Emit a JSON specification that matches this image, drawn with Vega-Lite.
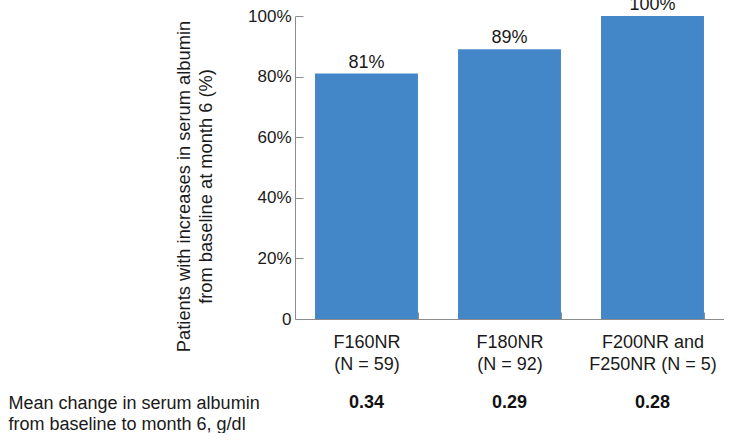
{
  "$schema": "https://vega.github.io/schema/vega-lite/v6.json",
  "padding": {"left": 8, "top": -4, "right": 0, "bottom": 0},
  "background": "white",
  "config": {
    "view": {"stroke": null},
    "font": "Liberation Sans",
    "axis": {"labelFont": "Liberation Sans", "titleFont": "Liberation Sans", "labelColor": "#1a1a1a", "titleColor": "#1a1a1a", "domainColor": "#8c8c8c", "tickColor": "#8c8c8c"}
  },
  "data": {
    "values": [
      {"group": "F160NR|(N = 59)", "pct": 81, "label": "81%", "mean": "0.34", "metric": "Mean change in serum albumin|from baseline to month 6, g/dl"},
      {"group": "F180NR|(N = 92)", "pct": 89, "label": "89%", "mean": "0.29", "metric": "Mean change in serum albumin|from baseline to month 6, g/dl"},
      {"group": "F200NR and|F250NR (N = 5)", "pct": 100, "label": "100%", "mean": "0.28", "metric": "Mean change in serum albumin|from baseline to month 6, g/dl"}
    ]
  },
  "spacing": 11,
  "vconcat": [
    {
      "width": 429,
      "height": 303,
      "encoding": {
        "x": {
          "field": "group", "type": "nominal", "sort": null,
          "scale": {"paddingInner": 0.28, "paddingOuter": 0.14},
          "axis": {"title": null, "labelAngle": 0, "labelFontSize": 18, "labelLineHeight": 22, "labelExpr": "split(datum.label, '|')", "tickBand": "extent", "tickSize": -7, "labelPadding": 21, "labelBaseline": "top"}
        },
        "y": {
          "field": "pct", "type": "quantitative",
          "scale": {"domain": [0, 100]},
          "axis": {"values": [0, 20, 40, 60, 80, 100], "grid": false, "labelFontSize": 17, "labelExpr": "datum.value == 0 ? '0' : datum.value + '%'", "tickSize": -8, "labelPadding": 12, "title": ["Patients with increases in serum albumin", "from baseline at month 6 (%)"], "titleFontSize": 18.3, "titleFontWeight": "normal", "titleLineHeight": 22, "titlePadding": 32, "titleY": 170}
        }
      },
      "layer": [
        {"mark": {"type": "bar", "color": "#4487c9"}},
        {"mark": {"type": "text", "fontSize": 18, "baseline": "bottom", "dy": -2, "color": "#1a1a1a"}, "encoding": {"text": {"field": "label"}}}
      ]
    },
    {
      "width": 429,
      "height": 20,
      "encoding": {
        "x": {"field": "group", "type": "nominal", "sort": null, "scale": {"paddingInner": 0.28, "paddingOuter": 0.14}, "axis": null},
        "y": {"field": "metric", "type": "nominal", "axis": {"title": null, "domain": false, "ticks": false, "labelAlign": "left", "labelBaseline": "top", "labelPadding": 287, "labelFontSize": 18, "labelLineHeight": 21, "labelExpr": "split(datum.label, '|')", "labelLimit": 0}},
        "text": {"field": "mean"}
      },
      "mark": {"type": "text", "fontSize": 18, "fontWeight": "bold", "baseline": "top", "color": "#111111"}
    }
  ]
}
